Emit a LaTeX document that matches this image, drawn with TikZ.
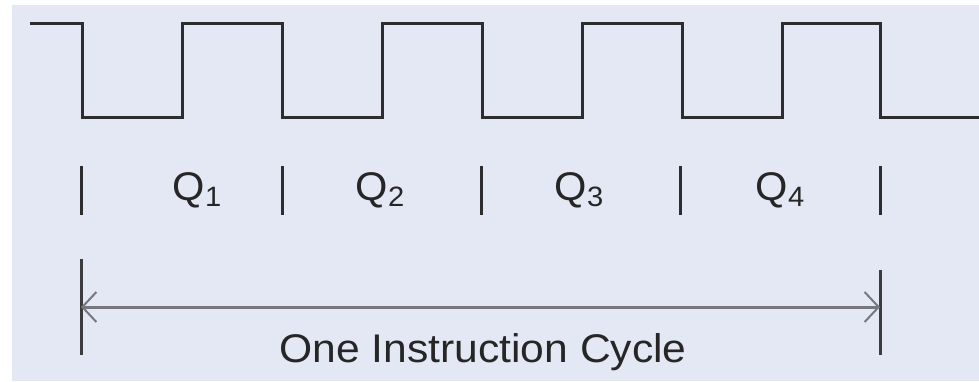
\documentclass[tikz,border=0pt]{standalone}
\usepackage{fontspec}
\setmainfont{Liberation Sans}
\usetikzlibrary{arrows.meta}
\definecolor{bgc}{RGB}{227,232,244}
\definecolor{wave}{RGB}{45,45,48}
\definecolor{arrowc}{RGB}{118,120,125}
\tikzset{
  wavestyle/.style={draw=wave, line width=3pt, line join=miter},
  tickstyle/.style={draw=wave, line width=3pt},
  dimline/.style={draw=arrowc, line width=3pt},
  endbar/.style={draw=wave!80!arrowc, line width=3pt},
  qlabel/.style={inner sep=0pt, text=black!85, font=\fontsize{40}{40}\selectfont},
  cyclelabel/.style={inner sep=0pt, text=black!85, font=\fontsize{40}{40}\selectfont},
}
\begin{document}
\begin{tikzpicture}[x=1pt,y=-1pt]
\useasboundingbox (0,0) rectangle (979,381);
\fill[white] (0,0) rectangle (979,381);
\fill[bgc] (12,5) rectangle (979,381);
% clock waveform
\draw[wavestyle] (30,23) -- (82,23) -- (82,117) -- (182,117) -- (182,23) -- (282,23) -- (282,117)
  -- (382,117) -- (382,23) -- (482,23) -- (482,117) -- (582,117) -- (582,23) -- (682,23)
  -- (682,117) -- (782,117) -- (782,23) -- (880,23) -- (880,117) -- (979,117);
% quarter ticks
\foreach \x/\n in {81/t0,282/t1,481/t2,680/t3,880/t4}{
  \coordinate (\n a) at (\x,166);
  \coordinate (\n b) at (\x,215);
  \draw[tickstyle] (\n a) -- (\n b);
}
% Q labels
\node[qlabel] (q1) at (197,190) {\scalebox{1.04}[1]{Q\raisebox{-6pt}{\fontsize{28}{28}\selectfont 1}}};
\node[qlabel] (q2) at (380,190) {\scalebox{1.04}[1]{Q\raisebox{-6pt}{\fontsize{28}{28}\selectfont 2}}};
\node[qlabel] (q3) at (579,190) {\scalebox{1.04}[1]{Q\raisebox{-6pt}{\fontsize{28}{28}\selectfont 3}}};
\node[qlabel] (q4) at (780,190) {\scalebox{1.04}[1]{Q\raisebox{-6pt}{\fontsize{28}{28}\selectfont 4}}};
% instruction cycle dimension
\coordinate (la) at (81,259);
\coordinate (lb) at (81,355);
\coordinate (ra) at (880,270);
\coordinate (rb) at (880,355);
\draw[endbar] (la) -- (lb);
\draw[endbar] (ra) -- (rb);
\coordinate (al) at (81,307);
\coordinate (ar) at (880,307);
\draw[dimline, {Straight Barb[length=14pt,width=30pt,line width=2pt]}-{Straight Barb[length=14pt,width=30pt,line width=2pt]}] (al) -- (ar);
\node[cyclelabel] (cyc) at (483,352) {\scalebox{1.065}[1]{One Instruction Cycle}};
\end{tikzpicture}
\end{document}
